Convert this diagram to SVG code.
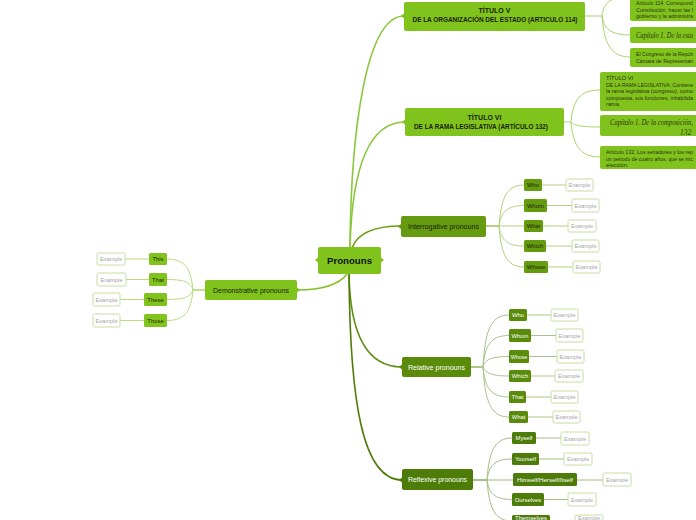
<svg xmlns="http://www.w3.org/2000/svg" width="696" height="520" viewBox="0 0 696 520">
<style>
text{font-family:"Liberation Sans",Arial,sans-serif;dominant-baseline:central}
.lime{fill:#80c31c}
.int{fill:#669b10}
.rel{fill:#5a8b0b}
.ref{fill:#4e7c08}
.ex rect{fill:#fff;stroke:#c4dea0;stroke-width:1}
.ex text{fill:#a5a5a5;font-size:5.7px;text-anchor:middle}
.lbl{font-size:5.9px;text-anchor:middle;fill:#1d2608}
.wl{font-size:5.9px;text-anchor:middle;fill:#fff}
.para{font-size:5.7px;fill:#2b3310}
.cap{font-family:"Liberation Serif",serif;font-style:italic;font-size:7.4px;fill:#2b3310}
.main{font-size:7px;text-anchor:middle}
.c{fill:none;stroke-width:1}
.cl{stroke:#a9d46c}
.ci{stroke:#b2d27e}
.cr{stroke:#a7c48a}
.cf{stroke:#a3bf84}
.cd{stroke:#b8dc7c}
.m{fill:none;stroke-width:1.6}
</style>

<g id="connectors">
  <path class="m" stroke="#8cc63f" d="M350,247 C351,130 366,16 404,16"/>
  <path class="m" stroke="#8cc63f" d="M350,247 C352,170 368,122 405,122"/>
  <path class="m" stroke="#6a9f13" d="M352,248 C358,232 375,226 401,226"/>
  <path class="m" stroke="#86c12a" d="M297,290 C320,290 338,286 347,274"/>
  <path class="m" stroke="#5e8e12" d="M349,274 C350,330 365,367 402,367"/>
  <path class="m" stroke="#4f7d09" d="M349,274 C350,400 362,480 402,480"/>

  <path class="c cl" stroke-width="1.4" d="M585,16 L602,16"/>
  <path class="c cl" d="M602,16 C604,2 610,-3 630,-3"/>
  <path class="c cl" d="M602,16 C604,28 610,35 630,35"/>
  <path class="c cl" d="M602,16 C604,42 610,57 630,57"/>

  <path class="c cl" stroke-width="1.4" d="M564,122 L571,122"/>
  <path class="c cl" d="M571,122 C573,100 580,90 600,90"/>
  <path class="c cl" d="M571,122 C573,125 580,127 600,127"/>
  <path class="c cl" d="M571,122 C573,145 580,157 600,157"/>

  <path class="c" stroke="#6a9f13" stroke-width="1.4" d="M486,226 L499,226"/>
  <path class="c ci" d="M499,226 C501,201 505,185 524,185"/>
  <path class="c ci" d="M499,226 C501,214 505,205.5 524,205.5"/>
  <path class="c ci" d="M499,226 L524,226"/>
  <path class="c ci" d="M499,226 C501,238 505,246 524,246"/>
  <path class="c ci" d="M499,226 C501,251 505,267 524,267"/>
  <path class="c ci" d="M542,185 L566,185 M547,205.5 L572,205.5 M543,226 L568,226 M546,246 L572,246 M548,267 L573,267"/>

  <path class="c" stroke="#5e8e12" stroke-width="1.4" d="M471,367 L483,367"/>
  <path class="c cr" d="M483,367 C485,332 490,315 509,315"/>
  <path class="c cr" d="M483,367 C485,346 490,335.5 509,335.5"/>
  <path class="c cr" d="M483,367 C485,360 490,356.5 509,356.5"/>
  <path class="c cr" d="M483,367 C485,372 490,376 509,376"/>
  <path class="c cr" d="M483,367 C485,387 490,397 509,397"/>
  <path class="c cr" d="M483,367 C485,400 490,417 509,417"/>
  <path class="c cr" d="M527,315 L551,315 M531,335.5 L556,335.5 M529,356.5 L557,356.5 M531,376 L555,376 M526,397 L551,397 M528,417 L553,417"/>

  <path class="c" stroke="#4f7d09" stroke-width="1.4" d="M473,480 L487,480"/>
  <path class="c cf" d="M487,480 C489,452 494,438 512,438"/>
  <path class="c cf" d="M487,480 C489,466 494,459 512,459"/>
  <path class="c cf" d="M487,480 L513,480"/>
  <path class="c cf" d="M487,480 C489,493 494,499.5 512,499.5"/>
  <path class="c cf" d="M487,480 C489,507 494,521 512,521"/>
  <path class="c cf" d="M536,438 L561,438 M539,459 L564,459 M577,480 L603,480 M544,499.5 L568,499.5 M550,521 L575,521"/>

  <path class="c" stroke="#86c12a" stroke-width="1.4" d="M205,290 L193,290"/>
  <path class="c cd" d="M193,290 C191,270 186,259 167,259"/>
  <path class="c cd" d="M193,290 C191,283 186,279.5 167,279.5"/>
  <path class="c cd" d="M193,290 C191,296 186,299.5 167,299.5"/>
  <path class="c cd" d="M193,290 C191,310 186,320.5 167,320.5"/>
  <path class="c cd" d="M149,259 L125,259 M149,279.5 L126,279.5 M144,299.5 L120,299.5 M144,320.5 L120,320.5"/>
</g>

<g id="pronouns">
  <rect class="lime" x="318" y="247" width="63" height="27" rx="2"/>
  <polygon class="lime" points="315,260 318,257.5 318,262.5"/>
  <polygon class="lime" points="384,260 381,257.5 381,262.5"/>
  <text x="349.5" y="260.5" font-size="9.8" font-weight="bold" text-anchor="middle" fill="#111" textLength="45" lengthAdjust="spacingAndGlyphs">Pronouns</text>
</g>

<g id="titulo-v">
  <rect class="lime" x="404" y="2" width="181" height="29" rx="2"/>
  <polygon class="lime" points="401,16 404,13.5 404,18.5"/>
  <text class="main" x="494.5" y="10.5" font-weight="bold" fill="#1a2205" font-size="6.6">TÍTULO V</text>
  <text class="main" x="495" y="19.5" font-weight="bold" fill="#1a2205" font-size="6.6" textLength="165" lengthAdjust="spacingAndGlyphs">DE LA ORGANIZACIÓN DEL ESTADO (ARTICULO 114)</text>
</g>
<g id="art-114">
  <rect class="lime" x="630" y="-22" width="80" height="43" rx="2"/>
  <text class="para" x="636" y="3" textLength="57" lengthAdjust="spacingAndGlyphs">Artículo 114. Correspond</text>
  <text class="para" x="636" y="9.5" textLength="57" lengthAdjust="spacingAndGlyphs">Constitución, hacer las l</text>
  <text class="para" x="636" y="16" textLength="57" lengthAdjust="spacingAndGlyphs">gobierno y la administra</text>
</g>
<g id="cap-1-v">
  <rect class="lime" x="630" y="27" width="80" height="16" rx="2"/>
  <text class="cap" x="636" y="35.5" textLength="57" lengthAdjust="spacingAndGlyphs">Capítulo 1. De la esta</text>
</g>
<g id="congreso">
  <rect class="lime" x="630" y="48" width="80" height="19" rx="2"/>
  <text class="para" x="636" y="54" textLength="57" lengthAdjust="spacingAndGlyphs">El Congreso de la Repúb</text>
  <text class="para" x="636" y="61" textLength="57" lengthAdjust="spacingAndGlyphs">Cámara de Representan</text>
</g>

<g id="titulo-vi">
  <rect class="lime" x="405" y="108" width="159" height="28" rx="2"/>
  <polygon class="lime" points="402,122 405,119.5 405,124.5"/>
  <text class="main" x="484.5" y="117" font-weight="bold" fill="#1a2205" font-size="6.6">TÍTULO VI</text>
  <text class="main" x="481" y="126" font-weight="bold" fill="#1a2205" font-size="6.6" textLength="134" lengthAdjust="spacingAndGlyphs">DE LA RAMA LEGISLATIVA (ARTÍCULO 132)</text>
</g>
<g id="rama-legislativa">
  <rect class="lime" x="600" y="72" width="110" height="39" rx="2"/>
  <text class="para" x="606" y="78">TÍTULO VI</text>
  <text class="para" x="606" y="84.5" textLength="87" lengthAdjust="spacingAndGlyphs">DE LA RAMA LEGISLATIVA: Contiene</text>
  <text class="para" x="606" y="91" textLength="87" lengthAdjust="spacingAndGlyphs">la rama legislativa (congreso), como</text>
  <text class="para" x="606" y="97.5" textLength="87" lengthAdjust="spacingAndGlyphs">compuesta, sus funciones, inhabilida</text>
  <text class="para" x="606" y="104">rama.</text>
</g>
<g id="cap-1-vi">
  <rect class="lime" x="600" y="115" width="110" height="21" rx="2"/>
  <text class="cap" x="610" y="122.5" textLength="83" lengthAdjust="spacingAndGlyphs">Capítulo 1. De la composición,</text>
  <text class="cap" x="680" y="132">132</text>
</g>
<g id="art-132">
  <rect class="lime" x="600" y="146" width="110" height="23" rx="2"/>
  <text class="para" x="606" y="152" textLength="87" lengthAdjust="spacingAndGlyphs">Artículo 132. Los senadores y los rep</text>
  <text class="para" x="606" y="158.5" textLength="87" lengthAdjust="spacingAndGlyphs">un periodo de cuatro años, que se inic</text>
  <text class="para" x="606" y="165">elección.</text>
</g>

<g id="interrogative">
  <rect class="int" x="401" y="216" width="85" height="21" rx="2"/>
  <polygon class="int" points="398,226.5 401,224 401,229"/>
  <text class="main" x="443.5" y="226.5" fill="#16200a" textLength="71" lengthAdjust="spacingAndGlyphs">Interrogative pronouns</text>
</g>
<g id="int-who"><rect class="int" x="524" y="179" width="18" height="12" rx="1.5"/><text class="lbl" x="533" y="185">Who</text></g>
<g id="int-who-ex" class="ex"><rect x="566" y="179" width="27" height="12" rx="1.5"/><text x="579.5" y="185">Example</text></g>
<g id="int-whom"><rect class="int" x="524" y="199" width="23" height="13" rx="1.5"/><text class="lbl" x="535.5" y="205.5">Whom</text></g>
<g id="int-whom-ex" class="ex"><rect x="572" y="199" width="27" height="13" rx="1.5"/><text x="585.5" y="205.5">Example</text></g>
<g id="int-what"><rect class="int" x="524" y="220" width="19" height="12" rx="1.5"/><text class="lbl" x="533.5" y="226">What</text></g>
<g id="int-what-ex" class="ex"><rect x="568" y="220" width="28" height="12" rx="1.5"/><text x="582" y="226">Example</text></g>
<g id="int-which"><rect class="int" x="524" y="240" width="22" height="12" rx="1.5"/><text class="lbl" x="535" y="246">Which</text></g>
<g id="int-which-ex" class="ex"><rect x="572" y="240" width="27" height="12" rx="1.5"/><text x="585.5" y="246">Example</text></g>
<g id="int-whose"><rect class="int" x="524" y="261" width="24" height="12" rx="1.5"/><text class="lbl" x="536" y="267">Whose</text></g>
<g id="int-whose-ex" class="ex"><rect x="573" y="261" width="27" height="12" rx="1.5"/><text x="586.5" y="267">Example</text></g>

<g id="demonstrative">
  <rect class="lime" x="205" y="280" width="92" height="20" rx="2"/>
  <polygon class="lime" points="300,290 297,287.5 297,292.5"/>
  <text class="main" x="251" y="290" fill="#16200a" textLength="76" lengthAdjust="spacingAndGlyphs">Demonstrative pronouns</text>
</g>
<g id="dem-this"><rect class="lime" x="149" y="253" width="18" height="12" rx="1.5"/><text class="lbl" x="158" y="259">This</text></g>
<g id="dem-this-ex" class="ex"><rect x="97" y="253" width="28" height="12" rx="1.5"/><text x="111" y="259">Example</text></g>
<g id="dem-that"><rect class="lime" x="149" y="273" width="18" height="13" rx="1.5"/><text class="lbl" x="158" y="279.5">That</text></g>
<g id="dem-that-ex" class="ex"><rect x="97" y="273" width="29" height="13" rx="1.5"/><text x="111.5" y="279.5">Example</text></g>
<g id="dem-these"><rect class="lime" x="144" y="293" width="23" height="13" rx="1.5"/><text class="lbl" x="155.5" y="299.5">These</text></g>
<g id="dem-these-ex" class="ex"><rect x="93" y="293" width="27" height="13" rx="1.5"/><text x="106.5" y="299.5">Example</text></g>
<g id="dem-those"><rect class="lime" x="144" y="314" width="23" height="13" rx="1.5"/><text class="lbl" x="155.5" y="320.5">Those</text></g>
<g id="dem-those-ex" class="ex"><rect x="93" y="314" width="27" height="13" rx="1.5"/><text x="106.5" y="320.5">Example</text></g>

<g id="relative">
  <rect class="rel" x="402" y="357" width="69" height="20" rx="2"/>
  <polygon class="rel" points="399,367 402,364.5 402,369.5"/>
  <text class="main" x="436.5" y="367" fill="#fff" textLength="57" lengthAdjust="spacingAndGlyphs">Relative pronouns</text>
</g>
<g id="rel-who"><rect class="rel" x="509" y="309" width="18" height="12" rx="1.5"/><text class="wl" x="518" y="315">Who</text></g>
<g id="rel-who-ex" class="ex"><rect x="551" y="309" width="27" height="12" rx="1.5"/><text x="564.5" y="315">Example</text></g>
<g id="rel-whom"><rect class="rel" x="509" y="329" width="22" height="13" rx="1.5"/><text class="wl" x="520" y="335.5">Whom</text></g>
<g id="rel-whom-ex" class="ex"><rect x="556" y="329" width="27" height="13" rx="1.5"/><text x="569.5" y="335.5">Example</text></g>
<g id="rel-whose"><rect class="rel" x="509" y="350" width="20" height="13" rx="1.5"/><text class="wl" x="519" y="356.5" textLength="16.5" lengthAdjust="spacingAndGlyphs">Whose</text></g>
<g id="rel-whose-ex" class="ex"><rect x="557" y="350" width="27" height="13" rx="1.5"/><text x="570.5" y="356.5">Example</text></g>
<g id="rel-which"><rect class="rel" x="509" y="370" width="22" height="12" rx="1.5"/><text class="wl" x="520" y="376">Which</text></g>
<g id="rel-which-ex" class="ex"><rect x="555" y="370" width="28" height="12" rx="1.5"/><text x="569" y="376">Example</text></g>
<g id="rel-that"><rect class="rel" x="509" y="391" width="17" height="12" rx="1.5"/><text class="wl" x="517.5" y="397">That</text></g>
<g id="rel-that-ex" class="ex"><rect x="551" y="391" width="27" height="12" rx="1.5"/><text x="564.5" y="397">Example</text></g>
<g id="rel-what"><rect class="rel" x="509" y="411" width="19" height="12" rx="1.5"/><text class="wl" x="518.5" y="417">What</text></g>
<g id="rel-what-ex" class="ex"><rect x="553" y="411" width="27" height="12" rx="1.5"/><text x="566.5" y="417">Example</text></g>

<g id="reflexive">
  <rect class="ref" x="402" y="469" width="71" height="21" rx="2"/>
  <polygon class="ref" points="399,480 402,477.5 402,482.5"/>
  <text class="main" x="437.5" y="479.5" fill="#fff" textLength="59" lengthAdjust="spacingAndGlyphs">Reflexive pronouns</text>
</g>
<g id="ref-myself"><rect class="ref" x="512" y="432" width="24" height="12" rx="1.5"/><text class="wl" x="524" y="438">Myself</text></g>
<g id="ref-myself-ex" class="ex"><rect x="561" y="432" width="28" height="13" rx="1.5"/><text x="575" y="438.5">Example</text></g>
<g id="ref-yourself"><rect class="ref" x="512" y="453" width="27" height="12" rx="1.5"/><text class="wl" x="525.5" y="459">Yourself</text></g>
<g id="ref-yourself-ex" class="ex"><rect x="564" y="453" width="28" height="12" rx="1.5"/><text x="578" y="459">Example</text></g>
<g id="ref-himself"><rect class="ref" x="513" y="473" width="64" height="13" rx="1.5"/><text class="wl" x="545" y="479.5" textLength="56" lengthAdjust="spacingAndGlyphs">Himself/Herself/Itself</text></g>
<g id="ref-himself-ex" class="ex"><rect x="603" y="473" width="28" height="13" rx="1.5"/><text x="617" y="479.5">Example</text></g>
<g id="ref-ourselves"><rect class="ref" x="512" y="493" width="32" height="13" rx="1.5"/><text class="wl" x="528" y="499.5">Ourselves</text></g>
<g id="ref-ourselves-ex" class="ex"><rect x="568" y="493" width="28" height="13" rx="1.5"/><text x="582" y="499.5">Example</text></g>
<g id="ref-themselves"><rect class="ref" x="512" y="515" width="38" height="13" rx="1.5"/><text class="wl" x="531" y="518">Themselves</text></g>
<g id="ref-themselves-ex" class="ex"><rect x="575" y="515" width="28" height="13" rx="1.5"/><text x="589" y="518">Example</text></g>
</svg>
